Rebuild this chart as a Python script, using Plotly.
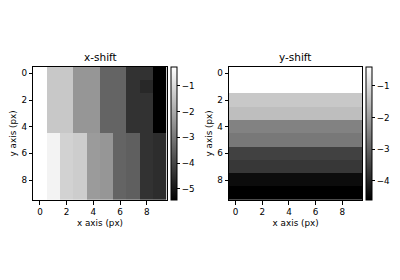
import plotly.graph_objects as go

cols = [0, 1, 2, 3, 4, 5, 6, 7, 8, 9]
rows = [0, 1, 2, 3, 4, 5, 6, 7, 8, 9]

# x-shift field (rows top to bottom)
xshift = [
    [-0.26, -1.37, -1.37, -2.39, -2.39, -3.40, -3.40, -4.42, -4.42, -5.43],
    [-0.26, -1.37, -1.37, -2.39, -2.39, -3.40, -3.40, -4.42, -4.62, -5.43],
    [-0.26, -1.37, -1.37, -2.39, -2.39, -3.40, -3.40, -4.42, -4.42, -5.43],
    [-0.26, -1.37, -1.37, -2.39, -2.39, -3.40, -3.40, -4.42, -4.42, -5.43],
    [-0.26, -1.37, -1.37, -2.39, -2.39, -3.40, -3.40, -4.42, -4.42, -5.43],
    [-0.26, -0.50, -1.17, -1.27, -2.29, -2.39, -3.40, -3.50, -4.42, -4.52],
    [-0.26, -0.50, -1.17, -1.27, -2.29, -2.39, -3.40, -3.50, -4.42, -4.52],
    [-0.26, -0.50, -1.17, -1.27, -2.29, -2.39, -3.40, -3.50, -4.42, -4.52],
    [-0.26, -0.50, -1.17, -1.27, -2.29, -2.39, -3.40, -3.50, -4.42, -4.52],
    [-0.26, -0.50, -1.17, -1.27, -2.29, -2.39, -3.40, -3.50, -4.42, -4.52],
]

# y-shift value per row (constant along x)
yshift_rows = [-0.40, -0.40, -1.31, -1.47, -2.46, -2.62, -3.53, -3.69, -4.40, -4.60]
yshift = [[v] * len(cols) for v in yshift_rows]

ticks = [0, 2, 4, 6, 8]
cb_ticks_x = [-1, -2, -3, -4, -5]
cb_ticks_y = [-1, -2, -3, -4]

W, H = 400, 280
FONT = "DejaVu Sans"
FS = 8.8
gray = [[0, "black"], [1, "white"]]

top_px, bot_px = 66.7, 200.0
y0 = 1 - bot_px / H
y1 = 1 - top_px / H
ymid = (y0 + y1) / 2
cb_len = bot_px - top_px

def cbar(xpx, tv):
    return dict(
        x=xpx / W, xanchor="left", xref="paper",
        y=ymid, yanchor="middle", yref="paper",
        len=cb_len, lenmode="pixels", thickness=6,
        xpad=0, ypad=0,
        outlinewidth=1, outlinecolor="black",
        tickvals=tv, ticks="outside", ticklen=3, tickwidth=1, tickcolor="black",
        tickfont=dict(family=FONT, size=FS, color="black"),
    )

fig = go.Figure()
fig.add_trace(go.Heatmap(
    z=xshift, x=cols, y=rows, colorscale=gray,
    colorbar=cbar(170.5, cb_ticks_x), xaxis="x", yaxis="y",
))
fig.add_trace(go.Heatmap(
    z=yshift, x=cols, y=rows, colorscale=gray,
    colorbar=cbar(365.5, cb_ticks_y), xaxis="x2", yaxis="y2",
))

ax_common = dict(
    showline=True, mirror=True, linecolor="black", linewidth=1,
    ticks="outside", ticklen=3.5, tickwidth=1, tickcolor="black",
    tickvals=ticks, showgrid=False, zeroline=False,
    tickfont=dict(family=FONT, size=FS, color="black"),
    title_font=dict(family=FONT, size=FS, color="black"),
    title_standoff=3,
)

fig.update_layout(
    width=W, height=H,
    margin=dict(l=0, r=0, t=0, b=0),
    paper_bgcolor="white", plot_bgcolor="white",
    showlegend=False,
    xaxis=dict(domain=[33.3 / W, 166.7 / W], range=[-0.5, 9.5], anchor="y",
               title_text="x axis (px)", **ax_common),
    yaxis=dict(domain=[y0, y1], range=[9.5, -0.5], anchor="x",
               title_text="y axis (px)", **ax_common),
    xaxis2=dict(domain=[229.0 / W, 362.3 / W], range=[-0.5, 9.5], anchor="y2",
                title_text="x axis (px)", **ax_common),
    yaxis2=dict(domain=[y0, y1], range=[9.5, -0.5], anchor="x2",
                title_text="y axis (px)", **ax_common),
    annotations=[
        dict(text="x-shift", x=100 / W, y=1 - 57 / H, xref="paper", yref="paper",
             showarrow=False, xanchor="center", yanchor="middle",
             font=dict(family=FONT, size=10.5, color="black")),
        dict(text="y-shift", x=295.6 / W, y=1 - 57 / H, xref="paper", yref="paper",
             showarrow=False, xanchor="center", yanchor="middle",
             font=dict(family=FONT, size=10.5, color="black")),
    ],
)

fig.write_html("out.html")
